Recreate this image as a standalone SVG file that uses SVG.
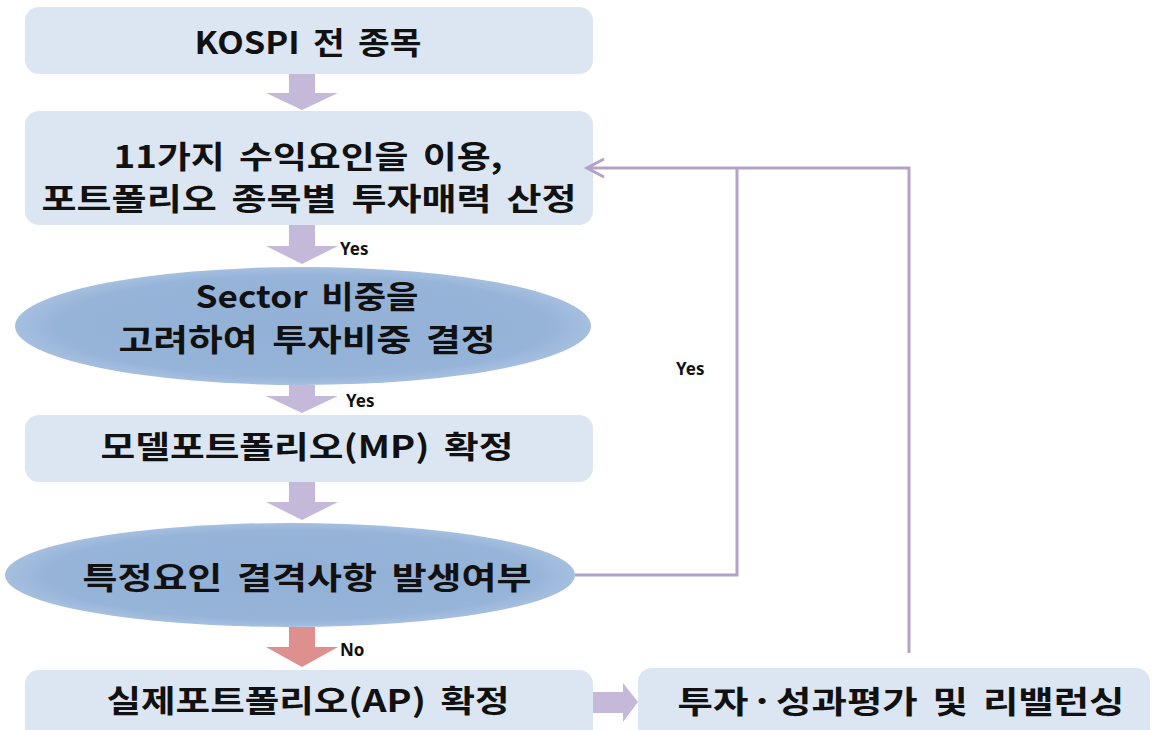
<svg xmlns="http://www.w3.org/2000/svg" width="1158" height="730" viewBox="0 0 1158 730">
<defs>
<style>
.box{fill:#dce6f2;}
.blk{fill:#c5b9da;}
.red{fill:#dd908e;}
.ln{fill:none;stroke:#b3a2c7;stroke-width:3;stroke-linejoin:miter;}
.t{font-family:"Noto Sans CJK KR","Noto Sans",sans-serif;font-weight:bold;font-size:31px;fill:#111;text-anchor:middle;word-spacing:5px;}
.s{font-family:"Noto Sans","Noto Sans CJK KR",sans-serif;font-weight:bold;font-size:17px;fill:#111;}
</style>
<radialGradient id="eg" cx="0.5" cy="0.5" r="0.5">
<stop offset="0" stop-color="#93b1d6"/>
<stop offset="0.85" stop-color="#96b3d8"/>
<stop offset="1" stop-color="#a5bfdf"/>
</radialGradient>
</defs>

<g id="n1">
<rect class="box" x="25" y="7" width="568" height="67" rx="14"/>
<text class="t" x="308" y="54" textLength="227" lengthAdjust="spacingAndGlyphs">KOSPI 전 종목</text>
</g>

<g id="n2">
<rect class="box" x="25" y="111" width="568" height="114" rx="14"/>
<text class="t" x="308" y="168" textLength="389" lengthAdjust="spacingAndGlyphs">11가지 수익요인을 이용,</text>
<text class="t" x="309" y="210" textLength="535" lengthAdjust="spacingAndGlyphs">포트폴리오 종목별 투자매력 산정</text>
</g>

<g id="n3">
<ellipse cx="303" cy="326" rx="288" ry="59" fill="url(#eg)"/>
<text class="t" x="307" y="308" textLength="223" lengthAdjust="spacingAndGlyphs">Sector 비중을</text>
<text class="t" x="307" y="351" textLength="377" lengthAdjust="spacingAndGlyphs">고려하여 투자비중 결정</text>
</g>

<g id="n4">
<rect class="box" x="25" y="415" width="568" height="67" rx="14"/>
<text class="t" x="307" y="458" textLength="413" lengthAdjust="spacingAndGlyphs">모델포트폴리오(MP) 확정</text>
</g>

<g id="n5">
<ellipse cx="290" cy="575" rx="285" ry="52" fill="url(#eg)"/>
<text class="t" x="307" y="589" textLength="449" lengthAdjust="spacingAndGlyphs">특정요인 결격사항 발생여부</text>
</g>

<g id="n6">
<rect class="box" x="25" y="670" width="568" height="80" rx="14"/>
<text class="t" x="308" y="712" textLength="403" lengthAdjust="spacingAndGlyphs">실제포트폴리오(AP) 확정</text>
</g>

<g id="n7">
<rect class="box" x="638" y="668" width="512" height="80" rx="14"/>
<text class="t" x="901" y="713" textLength="447" lengthAdjust="spacingAndGlyphs"><tspan style="word-spacing:-5px">투자 · 성과평가</tspan> 및 리밸런싱</text>
</g>

<g id="connectors">
<polygon class="blk" points="289,74 315,74 315,93 338,93 302,110 266,93 289,93"/>
<polygon class="blk" points="289,225 315,225 315,246 338,246 302,264 266,246 289,246"/>
<polygon class="blk" points="289,385 315,385 315,396 338,396 302,413 266,396 289,396"/>
<polygon class="blk" points="289,482 315,482 315,502 338,502 302,520 266,502 289,502"/>
<polygon class="red" points="289,627 315,627 315,647 338,647 302,667 266,647 289,647"/>
<polygon class="blk" points="593,692 623,692 623,683 638,702 623,722 623,713 593,713"/>
<polyline class="ln" points="575,575 737,575 737,168"/>
<polyline class="ln" points="909,653 909,168 587,168"/>
<polyline class="ln" points="604,159 587,168 604,177"/>
<text class="s" x="340" y="255">Yes</text>
<text class="s" x="346" y="407">Yes</text>
<text class="s" x="676" y="375">Yes</text>
<text class="s" x="340" y="656">No</text>
</g>
</svg>
